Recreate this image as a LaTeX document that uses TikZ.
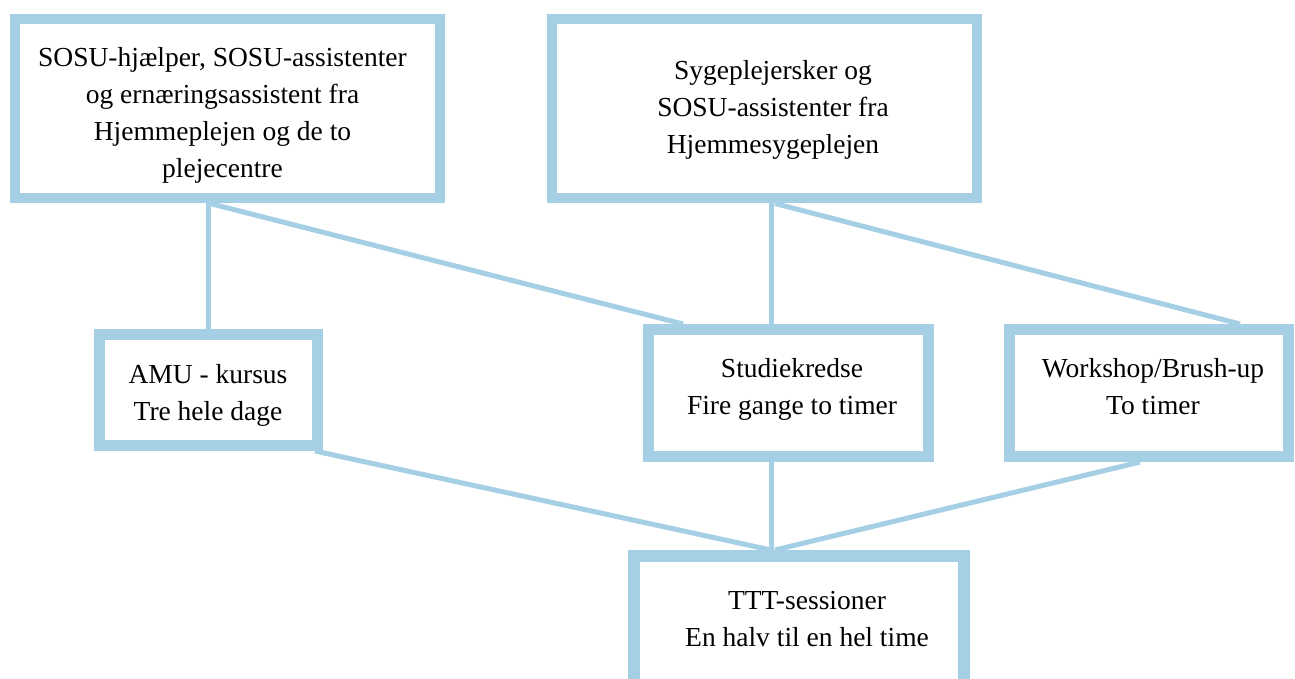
\documentclass[tikz,border=0pt]{standalone}
\usepackage{fontspec}
\setmainfont{Liberation Serif}
\usetikzlibrary{backgrounds}
\definecolor{boxblue}{RGB}{165,207,229}
\tikzset{
  box/.style={draw=boxblue, fill=white, inner sep=0pt, line width=#1},
  box/.default=11pt,
  txt/.style={align=center, inner sep=0pt, font=\fontsize{27.5}{37}\selectfont, text=black},
  link/.style={draw=boxblue, line width=5pt}
}
\begin{document}
\begin{tikzpicture}[x=1pt,y=-1pt]
\useasboundingbox (0,0) rectangle (1295,679);
\clip (0,0) rectangle (1295,679);
% boxes
\node[box=10pt, minimum width=425pt, minimum height=179pt] (b1) at (227.5,109) {};
\node[box=10pt, minimum width=425pt, minimum height=179pt] (b2) at (764.5,109) {};
\node[box, minimum width=217.5pt, minimum height=111pt] (amu) at (208.25,390) {};
\node[box, minimum width=279.5pt, minimum height=127pt] (stud) at (788.25,393) {};
\node[box, minimum width=279.5pt, minimum height=127pt] (work) at (1148.75,393) {};
\node[box=12pt, minimum width=330pt, minimum height=130pt] (ttt) at (799,621) {};
% texts
\node[txt] (t1) at (222.5,115) {SOSU-hjælper, SOSU-assistenter\\og ernæringsassistent fra\\Hjemmeplejen og de to\\plejecentre};
\node[txt] (t2) at (773,110) {Sygeplejersker og\\SOSU-assistenter fra\\Hjemmesygeplejen};
\node[txt] (t3) at (208,395.5) {AMU - kursus\\Tre hele dage};
\node[txt] (t4) at (792,389.5) {Studiekredse\\Fire gange to timer};
\node[txt] (t5) at (1153,386.5) {Workshop/Brush-up\\To timer};
\node[txt] (t6) at (807,619.5) {TTT-sessioner\\En halv til en hel time};
% connectors
\begin{scope}[on background layer]
\fill[white] (0,0) rectangle (1295,679);
\draw[link] ([xshift=-19.5pt]b1.south) -- ([xshift=-0.25pt]amu.north);
\draw[link] ([xshift=-17.5pt]b1.south) -- ([xshift=-105.25pt]stud.north);
\draw[link] ([xshift=6.5pt]b2.south) -- ([xshift=-17.25pt]stud.north);
\draw[link] ([xshift=10.5pt]b2.south) -- ([xshift=91.25pt]work.north);
\draw[link] ([xshift=106.75pt]amu.south) -- ([xshift=-28pt]ttt.north);
\draw[link] ([xshift=-17.25pt]stud.south) -- ([xshift=-28pt]ttt.north);
\draw[link] ([xshift=-8.75pt]work.south) -- ([xshift=-24pt]ttt.north);
\end{scope}
\end{tikzpicture}
\end{document}
